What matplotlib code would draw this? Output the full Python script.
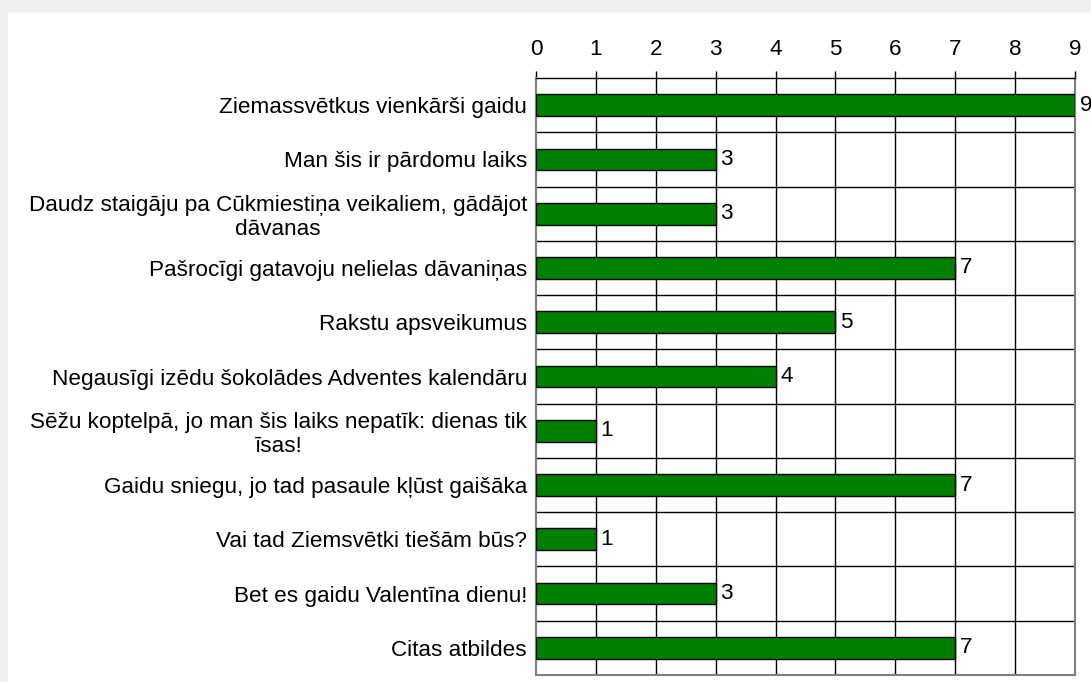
import matplotlib
matplotlib.use("Agg")
import matplotlib.pyplot as plt
from matplotlib.patches import Rectangle

categories = [
    "Ziemassvētkus vienkārši gaidu",
    "Man šis ir pārdomu laiks",
    "Daudz staigāju pa Cūkmiestiņa veikaliem, gādājot\ndāvanas",
    "Pašrocīgi gatavoju nelielas dāvaniņas",
    "Rakstu apsveikumus",
    "Negausīgi izēdu šokolādes Adventes kalendāru",
    "Sēžu koptelpā, jo man šis laiks nepatīk: dienas tik\nīsas!",
    "Gaidu sniegu, jo tad pasaule kļūst gaišāka",
    "Vai tad Ziemsvētki tiešām būs?",
    "Bet es gaidu Valentīna dienu!",
    "Citas atbildes",
]
values = [9, 3, 3, 7, 5, 4, 1, 7, 1, 3, 7]
x_ticks = list(range(0, 10))

plt.rcParams['font.family'] = ['Liberation Sans', 'DejaVu Sans']
FS = 16.2

W, H = 1091, 682
fig = plt.figure(figsize=(W / 100, H / 100), dpi=100)
fig.patch.set_facecolor('#f1efef')
fig.add_artist(Rectangle((8 / W, 0), 1 - 8 / W, 1 - 13 / H, transform=fig.transFigure,
                         facecolor='white', edgecolor='none', zorder=0))

ax = fig.add_axes([536 / W, 1 - 675 / H, (1075 - 536) / W, (675 - 78) / H])
ax.set_facecolor('white')
n = len(categories)
ypos = list(range(n))
ax.barh(ypos, values, height=0.4, color='#007f00', edgecolor='black', linewidth=1, zorder=3)
for y, v in zip(ypos, values):
    ax.text(v + 0.08, y, str(v), va='center', ha='left', fontsize=FS, color='black', zorder=4)

ax.set_xlim(0, 9)
ax.set_ylim(n - 0.5, -0.5)
ax.set_xticks(x_ticks)
ax.set_xticklabels([str(t) for t in x_ticks], fontsize=FS)
ax.xaxis.tick_top()
ax.tick_params(axis='x', direction='out', length=5, width=1, color='black', pad=8)
ax.set_yticks(ypos)
ax.set_yticklabels(categories, fontsize=FS, multialignment='center', linespacing=1.15)
ax.tick_params(axis='y', length=0, pad=6.5)

for xv in x_ticks[1:-1]:
    ax.axvline(xv, color='black', linewidth=1, zorder=1)
for b in range(1, n):
    ax.axhline(b - 0.5, color='black', linewidth=1, zorder=1)

for s in ['left', 'right', 'bottom']:
    ax.spines[s].set_color('#808080')
    ax.spines[s].set_linewidth(1.5)
ax.spines['top'].set_color('black')
ax.spines['top'].set_linewidth(1)

fig.savefig('out.png', dpi=100, facecolor=fig.get_facecolor())
